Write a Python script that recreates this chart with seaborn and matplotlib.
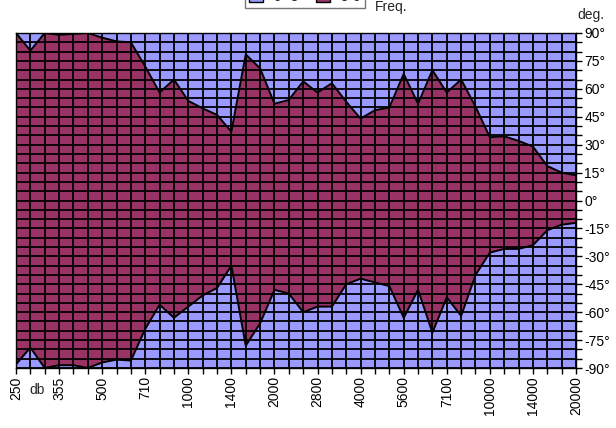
import numpy as np
import pandas as pd
import matplotlib
matplotlib.use("Agg")
import matplotlib.pyplot as plt
from matplotlib.patches import Patch
import seaborn as sns

# ---- data -------------------------------------------------------------
freqs = ["250", "280", "315", "355", "400", "450", "500", "560", "630", "710",
         "800", "900", "1000", "1120", "1250", "1400", "1600", "1800", "2000", "2240",
         "2500", "2800", "3150", "3550", "4000", "4500", "5000", "5600", "6000", "6700",
         "7100", "8000", "9000", "10000", "11200", "12500", "14000", "16000", "18000", "20000"]
shown_freqs = ["250", "355", "500", "710", "1000", "1400", "2000", "2800", "4000",
               "5600", "7100", "10000", "14000", "20000"]
upper = [90, 80.5, 90, 89, 89.5, 90, 87.5, 85.5, 85, 72,
         58, 65, 53.5, 49.5, 46, 37, 78.5, 71, 52, 54,
         64, 58, 63, 53, 44, 48.5, 50, 68, 52, 70,
         58, 65, 50.5, 34, 34.5, 32, 29, 18.5, 15, 13.5]
lower = [-88, -79, -90, -88.5, -88.5, -90, -87, -85.5, -86, -69,
         -56, -63, -57, -51, -47, -35, -78, -66, -48, -50,
         -60, -57, -57, -45, -42, -44, -46, -63, -48, -71,
         -52, -62, -40, -28, -26, -26, -24, -16, -13, -12]
band_labels = ["-6--3", "-3-0"]
angle_ticks = list(range(90, -91, -15))

df = pd.DataFrame({"idx": np.arange(len(freqs)), "freq": freqs,
                   "upper": upper, "lower": lower})

# ---- style ------------------------------------------------------------
sns.set_theme(style="white")
plt.rcParams["font.family"] = ["Liberation Sans", "DejaVu Sans"]
plt.rcParams["font.size"] = 10

BLUE = "#9999FF"
MAROON = "#993366"

W, H = 616, 428
fig = plt.figure(figsize=(W / 100, H / 100), dpi=100)
left, right, top, bottom = 16, 576, 33, 368
ax = fig.add_axes([left / W, 1 - bottom / H, (right - left) / W, (bottom - top) / H])
ax.set_facecolor(BLUE)

ax.fill_between(df["idx"], df["lower"], df["upper"], color=MAROON, lw=0, zorder=1)
sns.lineplot(data=df, x="idx", y="upper", color="black", lw=1.4, ax=ax, zorder=3)
sns.lineplot(data=df, x="idx", y="lower", color="black", lw=1.4, ax=ax, zorder=3)

ax.set_xlim(0, len(freqs) - 1)
ax.set_ylim(-90, 90)

# x ticks: every category, labels every third
ax.set_xticks(df["idx"])
ax.set_xticklabels([f if f in shown_freqs else "" for f in freqs], rotation=90)
# y ticks: every 5 deg, labels every 15 deg
yt = list(range(90, -91, -5))
ax.set_yticks(yt)
ax.set_yticklabels([f"{v}°" if v in angle_ticks else "" for v in yt])
ax.yaxis.tick_right()
ax.tick_params(axis="both", which="major", direction="out", length=4, width=1,
               color="black", labelsize=10, pad=2, labelcolor="black")
ax.tick_params(axis="x", bottom=True)
ax.tick_params(axis="y", right=True, left=False)

ax.set_axisbelow(False)
ax.grid(True, color="black", lw=1.3)
for s in ax.spines.values():
    s.set_color("black")
    s.set_linewidth(1.0)
ax.set_xlabel("")
ax.set_ylabel("")

# texts
fig.text(37 / W, 1 - 390 / H, "db", ha="center", va="center", fontsize=10)
fig.text(375 / W, 1 - 7 / H, "Freq.", ha="left", va="center", fontsize=10)
fig.text(577 / W, 1 - 15 / H, "deg.", ha="left", va="center", fontsize=10)

handles = [Patch(facecolor=BLUE, edgecolor="black"), Patch(facecolor=MAROON, edgecolor="black")]
leg = fig.legend(handles, band_labels, ncol=2, loc="lower center",
                 bbox_to_anchor=(305 / W, 1 - 15 / H), frameon=True, fancybox=False,
                 edgecolor="#555555", fontsize=10, handlelength=1.0, handleheight=0.9,
                 columnspacing=1.2, handletextpad=0.5, borderpad=0.3)
leg.get_frame().set_linewidth(1.0)

fig.savefig("out.png", dpi=100)
